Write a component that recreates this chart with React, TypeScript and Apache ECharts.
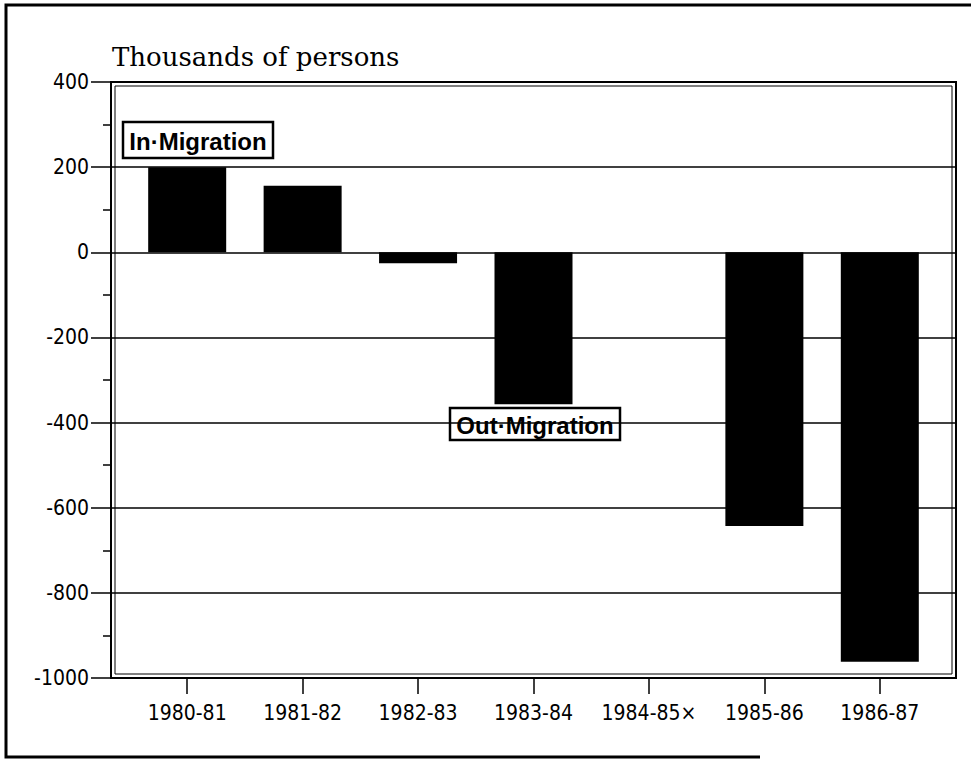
import React, { useEffect, useRef } from "react";
import * as echarts from "echarts";

const categories = ["1980-81", "1981-82", "1982-83", "1983-84", "1984-85×", "1985-86", "1986-87"];
const migration = [200, 156, -26, -357, null, -643, -962];
const yTicks = { min: -1000, max: 400, step: 200 };
const titleText = "Thousands of persons";
const inLabel = "In·Migration";
const outLabel = "Out·Migration";

const NARROW = "'DejaVu Sans Condensed', 'Liberation Sans Narrow', sans-serif";
const BOX_FONT = "bold 24px 'Liberation Sans', Arial, sans-serif";

export default function App() {
  const ref = useRef<HTMLDivElement>(null);
  useEffect(() => {
    if (!ref.current) return;
    const chart = echarts.init(ref.current, undefined, { renderer: "svg" });
    const idx = categories.map((_, i) => i);
    const data = migration
      .map((v, i) => (v === null ? null : [i, v]))
      .filter((d) => d !== null);
    chart.setOption({
      animation: false,
      backgroundColor: "#fff",
      grid: {
        left: 111,
        top: 82,
        width: 845,
        height: 596,
        show: true,
        borderColor: "#000",
        borderWidth: 2,
        containLabel: false,
      },
      xAxis: {
        type: "value",
        min: -0.66,
        max: 6.66,
        axisLine: { show: true, onZero: false, lineStyle: { color: "#000", width: 2 } },
        axisTick: {
          show: true,
          customValues: idx,
          length: 16,
          lineStyle: { color: "#000", width: 1.5 },
        },
        axisLabel: {
          customValues: idx,
          formatter: (v: number) => categories[Math.round(v)] ?? "",
          margin: 24,
          color: "#000",
          fontSize: 21,
          fontFamily: NARROW,
        },
        splitLine: { show: false },
      },
      yAxis: {
        type: "value",
        min: yTicks.min,
        max: yTicks.max,
        interval: yTicks.step,
        axisLine: { show: true, onZero: false, lineStyle: { color: "#000", width: 2 } },
        axisTick: { show: true, length: 20, lineStyle: { color: "#000", width: 1.5 } },
        minorTick: { show: true, splitNumber: 2, length: 8, lineStyle: { color: "#000", width: 1.5 } },
        axisLabel: {
          margin: 22,
          color: "#000",
          fontSize: 21,
          fontFamily: NARROW,
          formatter: (v: number) => String(v),
        },
        splitLine: { show: true, lineStyle: { color: "#000", width: 1.5 } },
      },
      series: [
        {
          type: "bar",
          data,
          barWidth: 78,
          itemStyle: { color: "#000" },
        },
      ],
      graphic: [
        {
          type: "polyline",
          shape: { points: [[971, 5], [6, 5], [6, 757], [760, 757]] },
          style: { stroke: "#000", lineWidth: 3, fill: null },
          silent: true,
        },
        {
          type: "rect",
          shape: { x: 115, y: 86, width: 837, height: 588 },
          style: { stroke: "#000", lineWidth: 1, fill: null },
          silent: true,
          z: 100,
        },
        {
          type: "text",
          x: 112,
          y: 44,
          style: { text: titleText, font: "26px 'DejaVu Serif', serif", fill: "#000" },
        },
        {
          type: "group",
          x: 123,
          y: 122,
          z: 200,
          children: [
            {
              type: "rect",
              shape: { x: 0, y: 0, width: 150, height: 36 },
              style: { fill: "#fff", stroke: "#000", lineWidth: 2.5 },
            },
            {
              type: "text",
              x: 75,
              y: 19,
              style: {
                text: inLabel,
                font: BOX_FONT,
                fill: "#000",
                align: "center",
                verticalAlign: "middle",
              },
            },
          ],
        },
        {
          type: "group",
          x: 450,
          y: 408,
          z: 200,
          children: [
            {
              type: "rect",
              shape: { x: 0, y: 0, width: 170, height: 32 },
              style: { fill: "#fff", stroke: "#000", lineWidth: 2.5 },
            },
            {
              type: "text",
              x: 85,
              y: 17,
              style: {
                text: outLabel,
                font: BOX_FONT,
                fill: "#000",
                align: "center",
                verticalAlign: "middle",
              },
            },
          ],
        },
      ],
    });
    return () => chart.dispose();
  }, []);
  return (
    <div
      ref={ref}
      style={{ position: "absolute", left: 0, top: 0, width: 971, height: 760, background: "#fff" }}
    />
  );
}
